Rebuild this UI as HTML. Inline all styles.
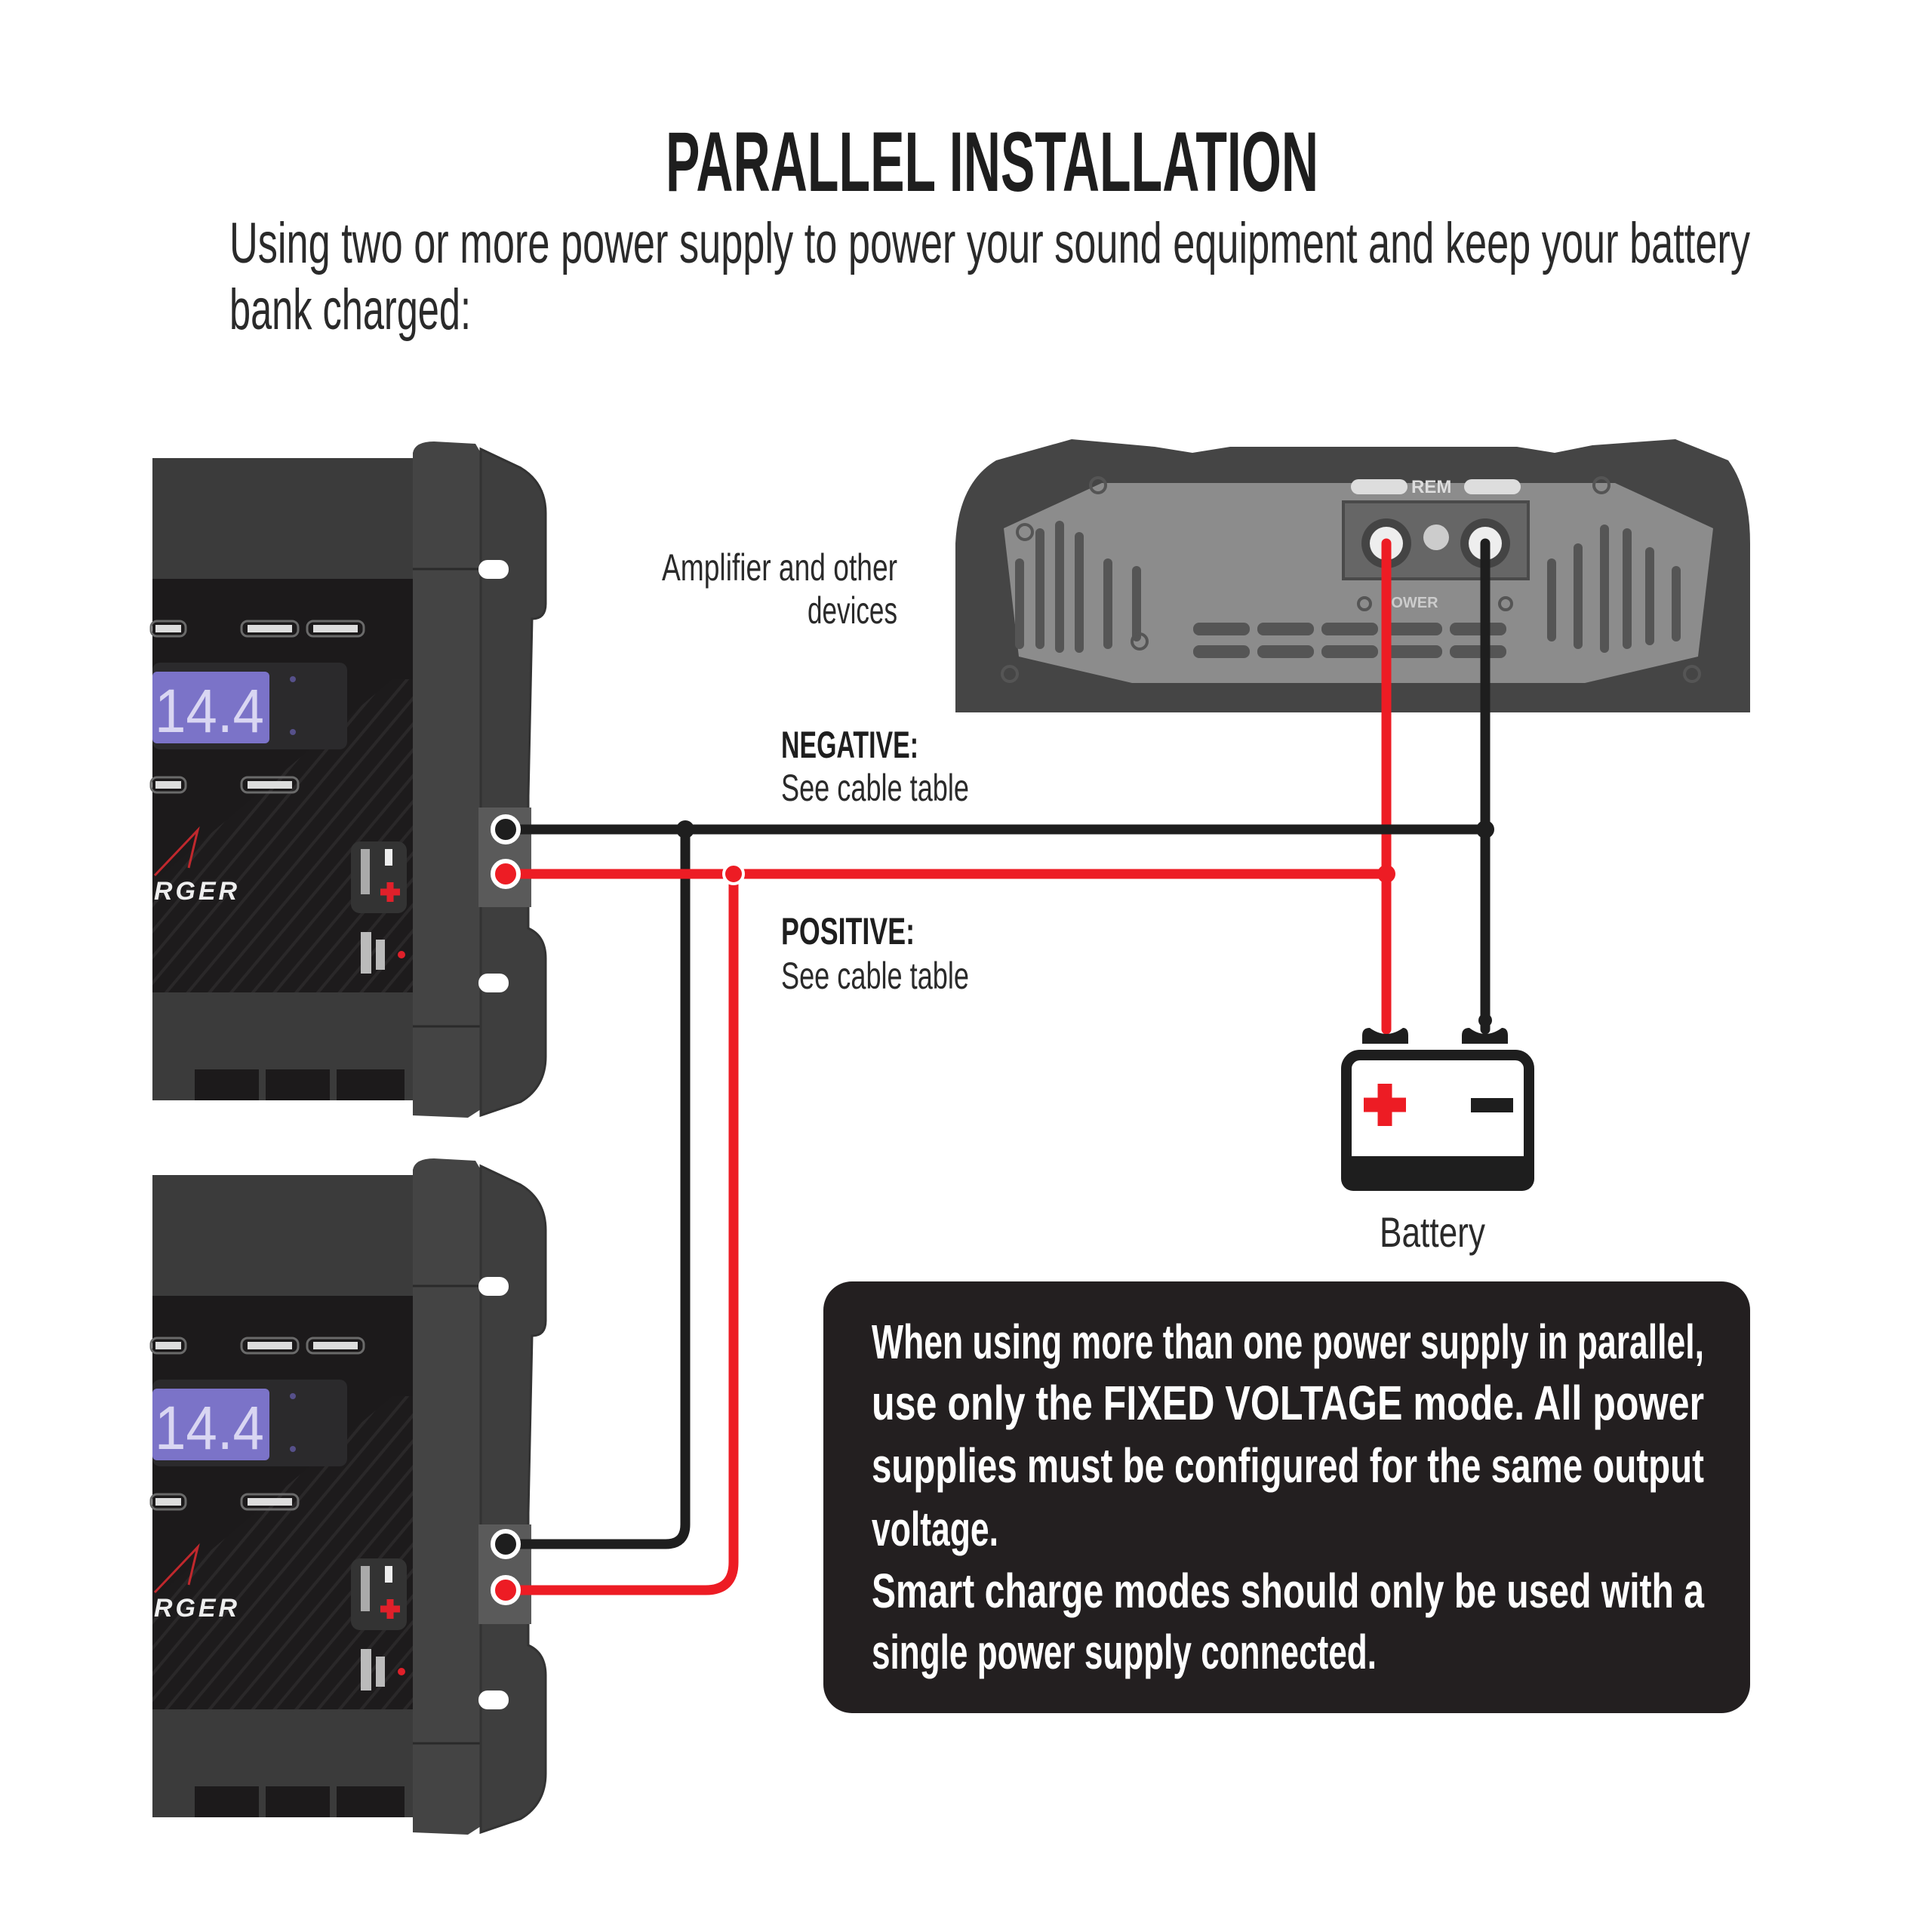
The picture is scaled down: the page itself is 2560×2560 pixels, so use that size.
<!DOCTYPE html>
<html><head><meta charset="utf-8"><style>
html,body{margin:0;padding:0;background:#fff}
svg{display:block}
text{font-family:"Liberation Sans Narrow","Liberation Sans",sans-serif}
</style></head><body>
<svg width="2560" height="2560" viewBox="0 0 2560 2560" xmlns="http://www.w3.org/2000/svg">
<rect width="2560" height="2560" fill="#fff"/>
<defs>
<pattern id="stripes" width="22" height="22" patternUnits="userSpaceOnUse" patternTransform="rotate(40)">
<rect width="22" height="22" fill="#1d1b1c"/><rect width="4" height="22" fill="#2c2a2b"/>
</pattern>
<g id="charger">
  <rect x="202" y="607" width="360" height="851" fill="#3b3b3b"/>
  <rect x="202" y="767" width="360" height="548" fill="#1c1a1b"/>
  <polygon points="202,1170 520,900 562,900 562,1315 202,1315" fill="url(#stripes)" opacity="0.9"/>
  <rect x="258" y="1417" width="85" height="41" fill="#1c1a1b"/>
  <rect x="352" y="1417" width="85" height="41" fill="#1c1a1b"/>
  <rect x="446" y="1417" width="90" height="41" fill="#1c1a1b"/>
  <!-- LCD area -->
  <rect x="202" y="878" width="258" height="115" rx="10" fill="#2b2a2c"/>
  <rect x="202" y="890" width="155" height="95" rx="6" fill="#7b73c8"/>
  <text x="205" y="970" font-size="82" fill="#d9d6f2" textLength="145" lengthAdjust="spacingAndGlyphs">14.4</text>
  <circle cx="388" cy="900" r="4" fill="#56508a"/><circle cx="388" cy="970" r="4" fill="#56508a"/>
  <!-- buttons -->
  <rect x="200" y="823" width="46" height="20" rx="8" fill="none" stroke="#6a6a6a" stroke-width="3"/>
  <rect x="206" y="828" width="34" height="10" fill="#ddd"/>
  <rect x="320" y="823" width="75" height="20" rx="8" fill="none" stroke="#6a6a6a" stroke-width="3"/>
  <rect x="328" y="828" width="59" height="10" fill="#ddd"/>
  <rect x="407" y="823" width="75" height="20" rx="8" fill="none" stroke="#6a6a6a" stroke-width="3"/>
  <rect x="415" y="828" width="59" height="10" fill="#ddd"/>
  <rect x="200" y="1030" width="46" height="20" rx="8" fill="none" stroke="#6a6a6a" stroke-width="3"/>
  <rect x="206" y="1035" width="34" height="10" fill="#ddd"/>
  <rect x="320" y="1030" width="75" height="20" rx="8" fill="none" stroke="#6a6a6a" stroke-width="3"/>
  <rect x="328" y="1035" width="59" height="10" fill="#ddd"/>
  <!-- logo -->
  <path d="M205,1160 L262,1100 L250,1150" fill="none" stroke="#c0282d" stroke-width="3"/>
  <text x="204" y="1192" font-size="34" font-style="italic" font-weight="bold" fill="#eee" textLength="114" lengthAdjust="spacingAndGlyphs" letter-spacing="4">RGER</text>
  <!-- output box -->
  <rect x="465" y="1115" width="74" height="95" rx="12" fill="#333"/>
  <rect x="510" y="1125" width="10" height="22" fill="#eee"/>
  <path d="M504,1182 h26 M517,1169 v26" stroke="#e0202a" stroke-width="9"/>
  <rect x="478" y="1125" width="12" height="60" fill="#aaa"/>
  <rect x="478" y="1235" width="14" height="55" fill="#bbb"/><rect x="498" y="1245" width="12" height="40" fill="#bbb"/>
  <circle cx="532" cy="1265" r="5" fill="#e0202a"/>
  <!-- end cap inner -->
  <path d="M547,600 Q550,585 575,585 L630,588 L637,600 L637,1470 L620,1481 L547,1478 Z" fill="#444"/>
  <path d="M547,754 H637 M547,1360 H637" stroke="#2a2a2a" stroke-width="3"/>
  <!-- end cap outer -->
  <path d="M637,595 L690,620 Q723,640 723,680 L723,800 Q723,820 705,820 L700,1055 L700,1230 Q723,1240 723,1270 L723,1400 Q723,1440 690,1460 L637,1478 Z" fill="#3e3e3e" stroke="#333" stroke-width="3"/>
  <rect x="634" y="1070" width="70" height="132" fill="#5a5a5a"/>
  <rect x="634" y="742" width="40" height="25" rx="12" fill="#fff"/>
  <rect x="634" y="1290" width="40" height="25" rx="12" fill="#fff"/>
</g>
</defs>

<!-- Title -->
<text x="882" y="253" font-size="112" font-weight="bold" fill="#1e1e1e" textLength="865" lengthAdjust="spacingAndGlyphs">PARALLEL INSTALLATION</text>
<text x="304" y="348" font-size="76" fill="#2a2a2a" textLength="2015" lengthAdjust="spacingAndGlyphs">Using two or more power supply to power your sound equipment and keep your battery</text>
<text x="304" y="436" font-size="76" fill="#2a2a2a" textLength="320" lengthAdjust="spacingAndGlyphs">bank charged:</text>

<!-- Chargers -->
<use href="#charger"/>
<use href="#charger" transform="translate(0,950)"/>

<!-- Amplifier -->
<path d="M1266,720 Q1270,640 1320,610 L1420,582 L1530,592 L1580,600 L1630,592 L2010,592 L2060,600 L2110,590 L2220,582 L2290,610 Q2319,650 2319,720 L2319,944 L1266,944 Z" fill="#454545"/>
<path d="M1330,700 L1460,640 L2140,640 L2270,700 L2250,870 L2100,905 L1500,905 L1350,870 Z" fill="#8c8c8c"/>
<g fill="#555">
<rect x="1345" y="740" width="12" height="120" rx="6"/><rect x="1372" y="700" width="12" height="160" rx="6"/>
<rect x="1398" y="690" width="12" height="175" rx="6"/><rect x="1424" y="705" width="12" height="160" rx="6"/>
<rect x="1462" y="740" width="12" height="120" rx="6"/><rect x="1500" y="750" width="12" height="100" rx="6"/>
<rect x="2050" y="740" width="12" height="110" rx="6"/><rect x="2085" y="720" width="12" height="140" rx="6"/>
<rect x="2120" y="695" width="12" height="170" rx="6"/><rect x="2150" y="700" width="12" height="160" rx="6"/>
<rect x="2180" y="725" width="12" height="130" rx="6"/><rect x="2215" y="750" width="12" height="100" rx="6"/>
<rect x="1581" y="825" width="75" height="17" rx="8"/><rect x="1666" y="825" width="75" height="17" rx="8"/>
<rect x="1751" y="825" width="75" height="17" rx="8"/><rect x="1836" y="825" width="75" height="17" rx="8"/>
<rect x="1921" y="825" width="75" height="17" rx="8"/>
<rect x="1581" y="855" width="75" height="17" rx="8"/><rect x="1666" y="855" width="75" height="17" rx="8"/>
<rect x="1751" y="855" width="75" height="17" rx="8"/><rect x="1836" y="855" width="75" height="17" rx="8"/>
<rect x="1921" y="855" width="75" height="17" rx="8"/>
</g>
<g fill="none" stroke="#555" stroke-width="4">
<circle cx="1455" cy="643" r="10"/><circle cx="2122" cy="643" r="10"/><circle cx="1358" cy="705" r="10"/>
<circle cx="1338" cy="893" r="10"/><circle cx="2242" cy="893" r="10"/><circle cx="1510" cy="850" r="10"/>
<circle cx="1808" cy="800" r="8"/><circle cx="1995" cy="800" r="8"/>
</g>
<rect x="1790" y="635" width="75" height="20" rx="10" fill="#ddd"/><rect x="1940" y="635" width="75" height="20" rx="10" fill="#ddd"/>
<text x="1870" y="653" font-size="24" font-weight="bold" fill="#ddd">REM</text>
<rect x="1780" y="665" width="245" height="102" fill="#666" stroke="#4a4a4a" stroke-width="4"/>
<circle cx="1837" cy="720" r="33" fill="#444"/><circle cx="1837" cy="720" r="22" fill="#eee"/>
<circle cx="1968" cy="720" r="33" fill="#444"/><circle cx="1968" cy="720" r="22" fill="#eee"/>
<circle cx="1903" cy="712" r="17" fill="#ccc"/>
<text x="1830" y="805" font-size="20" font-weight="bold" fill="#ccc">POWER</text>

<!-- Wires -->
<g fill="none" stroke-linecap="round" stroke-linejoin="round" stroke-width="13">
<path d="M1837,720 V1364" stroke="#ed1c24"/>
<path d="M1968,720 V1364" stroke="#1e1e1e"/>
<path d="M670,1099 H1968" stroke="#1e1e1e"/>
<path d="M908,1099 V2020 Q908,2046 882,2046 H670" stroke="#1e1e1e"/>
<path d="M670,1158 H1837" stroke="#ed1c24" stroke-linecap="butt"/>
<path d="M972,1158 V2070 Q972,2107 935,2107 H670" stroke="#ed1c24"/>
</g>
<g>
<circle cx="670" cy="1099" r="17" fill="#1e1e1e" stroke="#fff" stroke-width="6"/>
<circle cx="670" cy="1158" r="17" fill="#ed1c24" stroke="#fff" stroke-width="6"/>
<circle cx="670" cy="2046" r="17" fill="#1e1e1e" stroke="#fff" stroke-width="6"/>
<circle cx="670" cy="2107" r="17" fill="#ed1c24" stroke="#fff" stroke-width="6"/>
<circle cx="908" cy="1099" r="12" fill="#1e1e1e"/>
<circle cx="972" cy="1158" r="13" fill="#ed1c24" stroke="#fff" stroke-width="4"/>
<circle cx="1968" cy="1099" r="12" fill="#1e1e1e"/>
<circle cx="1837" cy="1158" r="12" fill="#ed1c24"/>
</g>

<!-- Battery -->
<path d="M1805,1383 V1372 Q1805,1362 1815,1362 Q1837,1378 1859,1362 Q1866,1362 1866,1372 V1383 Z" fill="#1e1e1e"/>
<path d="M1937,1383 V1372 Q1937,1362 1947,1362 Q1968,1378 1990,1362 Q1998,1362 1998,1372 V1383 Z" fill="#1e1e1e"/>
<circle cx="1968" cy="1352" r="9" fill="#1e1e1e"/>
<rect x="1784" y="1398" width="242" height="172" rx="18" fill="#fff" stroke="#1e1e1e" stroke-width="14"/>
<rect x="1777" y="1532" width="256" height="46" rx="16" fill="#1e1e1e"/>
<rect x="1777" y="1532" width="256" height="20" fill="#1e1e1e"/>
<path d="M1807,1464 h56 M1835,1436 v56" stroke="#ed1c24" stroke-width="19"/>
<rect x="1949" y="1455" width="56" height="19" fill="#1e1e1e"/>
<text x="1898" y="1652" font-size="56" fill="#2a2a2a" text-anchor="middle" textLength="140" lengthAdjust="spacingAndGlyphs">Battery</text>

<!-- Labels -->
<text x="1189" y="769" font-size="50" fill="#2a2a2a" text-anchor="end" textLength="312" lengthAdjust="spacingAndGlyphs">Amplifier and other</text>
<text x="1189" y="826" font-size="50" fill="#2a2a2a" text-anchor="end" textLength="119" lengthAdjust="spacingAndGlyphs">devices</text>
<text x="1035" y="1004" font-size="50" font-weight="bold" fill="#1e1e1e" textLength="182" lengthAdjust="spacingAndGlyphs">NEGATIVE:</text>
<text x="1035" y="1061" font-size="50" fill="#2a2a2a" textLength="249" lengthAdjust="spacingAndGlyphs">See cable table</text>
<text x="1035" y="1251" font-size="50" font-weight="bold" fill="#1e1e1e" textLength="177" lengthAdjust="spacingAndGlyphs">POSITIVE:</text>
<text x="1035" y="1310" font-size="50" fill="#2a2a2a" textLength="249" lengthAdjust="spacingAndGlyphs">See cable table</text>

<!-- Note box -->
<rect x="1091" y="1698" width="1228" height="572" rx="38" fill="#231f20"/>
<g font-size="64" fill="#fff" font-weight="bold">
<text x="1155" y="1800" textLength="1103" lengthAdjust="spacingAndGlyphs">When using more than one power supply in parallel,</text>
<text x="1155" y="1881" textLength="1103" lengthAdjust="spacingAndGlyphs">use only the FIXED VOLTAGE mode. All power</text>
<text x="1155" y="1964" textLength="1103" lengthAdjust="spacingAndGlyphs">supplies must be configured for the same output</text>
<text x="1155" y="2048" textLength="168" lengthAdjust="spacingAndGlyphs">voltage.</text>
<text x="1155" y="2130" textLength="1103" lengthAdjust="spacingAndGlyphs">Smart charge modes should only be used with a</text>
<text x="1155" y="2211" textLength="669" lengthAdjust="spacingAndGlyphs">single power supply connected.</text>
</g>
</svg>
</body></html>
